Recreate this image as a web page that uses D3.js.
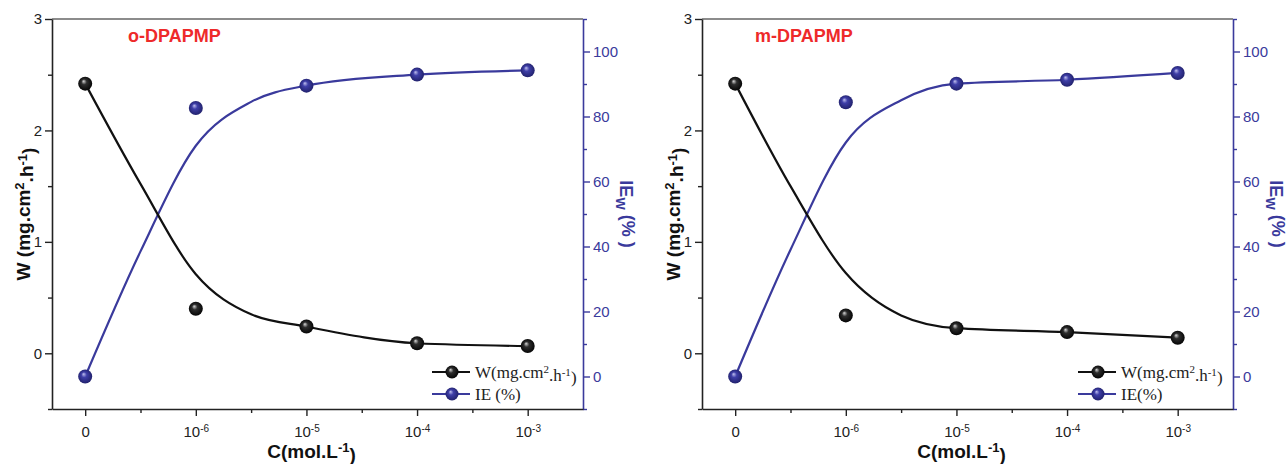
<!DOCTYPE html>
<html><head><meta charset="utf-8">
<script src="https://cdn.jsdelivr.net/npm/d3@7"></script>
<style>body{margin:0;background:#fff}</style>
</head><body><svg id="c" width="1286" height="464"></svg>
<script>
// ---- data ----
const categories = ["0", "10^-6", "10^-5", "10^-4", "10^-3"];
const catBase = ["0", "10", "10", "10", "10"];
const catExp = ["", "-6", "-5", "-4", "-3"];
const catIndex = [0, 1, 2, 3, 4];

const oW  = [2.42, 0.40, 0.24, 0.09, 0.065];
const oIE = [0, 82.6, 89.5, 92.9, 94.2];
const mW  = [2.42, 0.34, 0.225, 0.19, 0.14];
const mIE = [0, 84.4, 90.1, 91.3, 93.4];

// fitted (smoothed) curves at category positions
const fitX   = [0, 0.5, 1, 1.5, 2, 3, 4];
const oFitW  = [2.42, 1.52, 0.71, 0.35, 0.24, 0.09, 0.065];
const oFitIE = [0, 38.5, 71, 84.5, 89.5, 92.9, 94.2];
const mFitW  = [2.42, 1.50, 0.72, 0.34, 0.225, 0.19, 0.14];
const mFitIE = [0, 39, 72, 85, 90.1, 91.3, 93.4];

const xDomain = [-0.3, 4.5];
const xMinor = [0.5, 1.5, 2.5, 3.5];
const wDomain = [-0.5, 3];
const wTicks = [0, 1, 2, 3];
const wMinor = [-0.5, 0.5, 1.5, 2.5];
const ieDomain = [-10, 110];
const ieTicks = [0, 20, 40, 60, 80, 100];
const ieMinor = [-10, 10, 30, 50, 70, 90, 110];

const titles = ["o-DPAPMP", "m-DPAPMP"];
const ieLegend = ["IE (%)", "IE(%)"];

// ---- drawing ----
const svg = d3.select("#c");
const defs = svg.append("defs");
function sphereGrad(id, hi, mid, dark) {
  const g = defs.append("radialGradient").attr("id", id)
    .attr("cx", "50%").attr("cy", "50%").attr("r", "55%")
    .attr("fx", "38%").attr("fy", "32%");
  g.append("stop").attr("offset", "0%").attr("stop-color", hi);
  g.append("stop").attr("offset", "35%").attr("stop-color", mid);
  g.append("stop").attr("offset", "100%").attr("stop-color", dark);
}
sphereGrad("gBlack", "#d8d8d8", "#2e2e2e", "#000000");
sphereGrad("gBlue", "#c0c0ee", "#3f3fa8", "#1e1e66");

const BLUE = "#3a3a9c";
const AX = "#222";
const y0 = 19, y1 = 409;

const panels = [
  {W: oW, IE: oIE, fitW: oFitW, fitIE: oFitIE, x0: 52, x1: 583, titleX: 128, legX: 452, k: 0},
  {W: mW, IE: mIE, fitW: mFitW, fitIE: mFitIE, x0: 702, x1: 1233, titleX: 755, legX: 1098, k: 1}
];

panels.forEach(draw);

function styleAxis(g, color, fontColor) {
  g.selectAll("path.domain").attr("stroke", color).attr("stroke-width", 1.6);
  g.selectAll(".tick line").attr("stroke", color).attr("stroke-width", 1.4);
  g.selectAll(".tick text").attr("fill", fontColor)
    .attr("font-family", "'Liberation Sans', Arial, sans-serif").attr("font-size", 15);
}

function draw(p) {
  const x = d3.scaleLinear().domain(xDomain).range([p.x0, p.x1]);
  const yW = d3.scaleLinear().domain(wDomain).range([y1, y0]);
  const yI = d3.scaleLinear().domain(ieDomain).range([y1, y0]);
  const g = svg.append("g");

  // top frame
  g.append("line").attr("x1", p.x0).attr("x2", p.x1).attr("y1", y0).attr("y2", y0)
    .attr("stroke", "#666").attr("stroke-width", 1.3);

  // left axis
  const gl = g.append("g").attr("transform", `translate(${p.x0},0)`)
    .call(d3.axisLeft(yW).tickValues(wTicks).tickSize(7).tickPadding(3).tickSizeOuter(0).tickFormat(d3.format("d")));
  styleAxis(gl, AX, "#222");
  const glm = g.append("g").attr("transform", `translate(${p.x0},0)`)
    .call(d3.axisLeft(yW).tickValues(wMinor).tickSize(4).tickFormat(""));
  glm.select(".domain").remove();
  styleAxis(glm, AX, "#222");

  // right axis
  const gr = g.append("g").attr("transform", `translate(${p.x1},0)`)
    .call(d3.axisRight(yI).tickValues(ieTicks).tickSize(7).tickPadding(3).tickSizeOuter(0).tickFormat(d3.format("d")));
  styleAxis(gr, BLUE, BLUE);
  const grm = g.append("g").attr("transform", `translate(${p.x1},0)`)
    .call(d3.axisRight(yI).tickValues(ieMinor).tickSize(4).tickFormat(""));
  grm.select(".domain").remove();
  styleAxis(grm, BLUE, BLUE);

  // bottom axis
  const gb = g.append("g").attr("transform", `translate(0,${y1})`)
    .call(d3.axisBottom(x).tickValues(catIndex).tickSize(7).tickPadding(10).tickSizeOuter(0).tickFormat(i => catBase[i]));
  styleAxis(gb, AX, "#222");
  gb.selectAll(".tick text").each(function (d) {
    if (catExp[d]) d3.select(this).append("tspan").attr("dy", "-0.45em").attr("font-size", 10).text(catExp[d]);
  });
  const gbm = g.append("g").attr("transform", `translate(0,${y1})`)
    .call(d3.axisBottom(x).tickValues(xMinor).tickSize(4).tickFormat(""));
  gbm.select(".domain").remove();
  styleAxis(gbm, AX, "#222");

  // fitted curves
  const lineW = d3.line().x(d => x(d[0])).y(d => yW(d[1])).curve(d3.curveMonotoneX);
  const lineI = d3.line().x(d => x(d[0])).y(d => yI(d[1])).curve(d3.curveMonotoneX);
  g.append("path").attr("d", lineI(d3.zip(fitX, p.fitIE))).attr("fill", "none")
    .attr("stroke", BLUE).attr("stroke-width", 2.2);
  g.append("path").attr("d", lineW(d3.zip(fitX, p.fitW))).attr("fill", "none")
    .attr("stroke", "#111").attr("stroke-width", 2.2);

  // points
  g.selectAll(".pi").data(p.IE).join("circle")
    .attr("cx", (d, i) => x(catIndex[i])).attr("cy", d => yI(d)).attr("r", 7)
    .attr("fill", "url(#gBlue)");
  g.selectAll(".pw").data(p.W).join("circle")
    .attr("cx", (d, i) => x(catIndex[i])).attr("cy", d => yW(d)).attr("r", 7)
    .attr("fill", "url(#gBlack)");

  // title
  g.append("text").attr("x", p.titleX).attr("y", 42).text(titles[p.k])
    .attr("font-family", "'Liberation Sans', Arial, sans-serif").attr("font-weight", "bold")
    .attr("font-size", 18).attr("fill", "#ee2a2a");

  // axis labels
  const lw = g.append("text").attr("transform", `translate(${p.x0 - 22},${(y0 + y1) / 2}) rotate(-90)`)
    .attr("text-anchor", "middle").attr("font-family", "'Liberation Sans', Arial, sans-serif")
    .attr("font-weight", "bold").attr("font-size", 19).attr("fill", "#111");
  lw.append("tspan").text("W (mg.cm");
  lw.append("tspan").attr("dy", "-0.45em").attr("font-size", 13).text("2");
  lw.append("tspan").attr("dy", "0.45em").text(".h");
  lw.append("tspan").attr("dy", "-0.45em").attr("font-size", 13).text("-1");
  lw.append("tspan").attr("dy", "0.45em").text(")");

  const li = g.append("text").attr("transform", `translate(${p.x1 + 37},${(y0 + y1) / 2}) rotate(90)`)
    .attr("text-anchor", "middle").attr("font-family", "'Liberation Sans', Arial, sans-serif")
    .attr("font-weight", "bold").attr("font-size", 18).attr("fill", BLUE);
  li.append("tspan").text("IE");
  li.append("tspan").attr("dy", "0.3em").attr("font-size", 13).text("W");
  li.append("tspan").attr("dy", "-0.3em").text(" (% )");

  const lx = g.append("text").attr("x", (p.x0 + p.x1) / 2 - 6).attr("y", 458)
    .attr("text-anchor", "middle").attr("font-family", "'Liberation Sans', Arial, sans-serif")
    .attr("font-weight", "bold").attr("font-size", 19).attr("fill", "#111");
  lx.append("tspan").text("C(mol.L");
  lx.append("tspan").attr("dy", "-0.45em").attr("font-size", 13).text("-1");
  lx.append("tspan").attr("dy", "0.45em").text(")");

  // legend
  const rows = [{y: 372, color: "#111", grad: "url(#gBlack)"}, {y: 394, color: BLUE, grad: "url(#gBlue)"}];
  rows.forEach((r, j) => {
    g.append("line").attr("x1", p.legX - 20).attr("x2", p.legX + 18).attr("y1", r.y).attr("y2", r.y)
      .attr("stroke", r.color).attr("stroke-width", 2.2);
    g.append("circle").attr("cx", p.legX).attr("cy", r.y).attr("r", 6.5).attr("fill", r.grad);
    const t = g.append("text").attr("x", p.legX + 23).attr("y", r.y + 6)
      .attr("font-family", "'Liberation Serif', 'Times New Roman', serif").attr("font-size", 17).attr("fill", "#222");
    if (j === 0) {
      t.append("tspan").text("W(mg.cm");
      t.append("tspan").attr("dy", "-0.45em").attr("font-size", 11).text("2");
      t.append("tspan").attr("dy", "0.45em").text(".h");
      t.append("tspan").attr("dy", "-0.45em").attr("font-size", 11).text("-1");
      t.append("tspan").attr("dy", "0.45em").text(")");
    } else {
      t.text(ieLegend[p.k]);
    }
  });
}
</script>
</body></html>
